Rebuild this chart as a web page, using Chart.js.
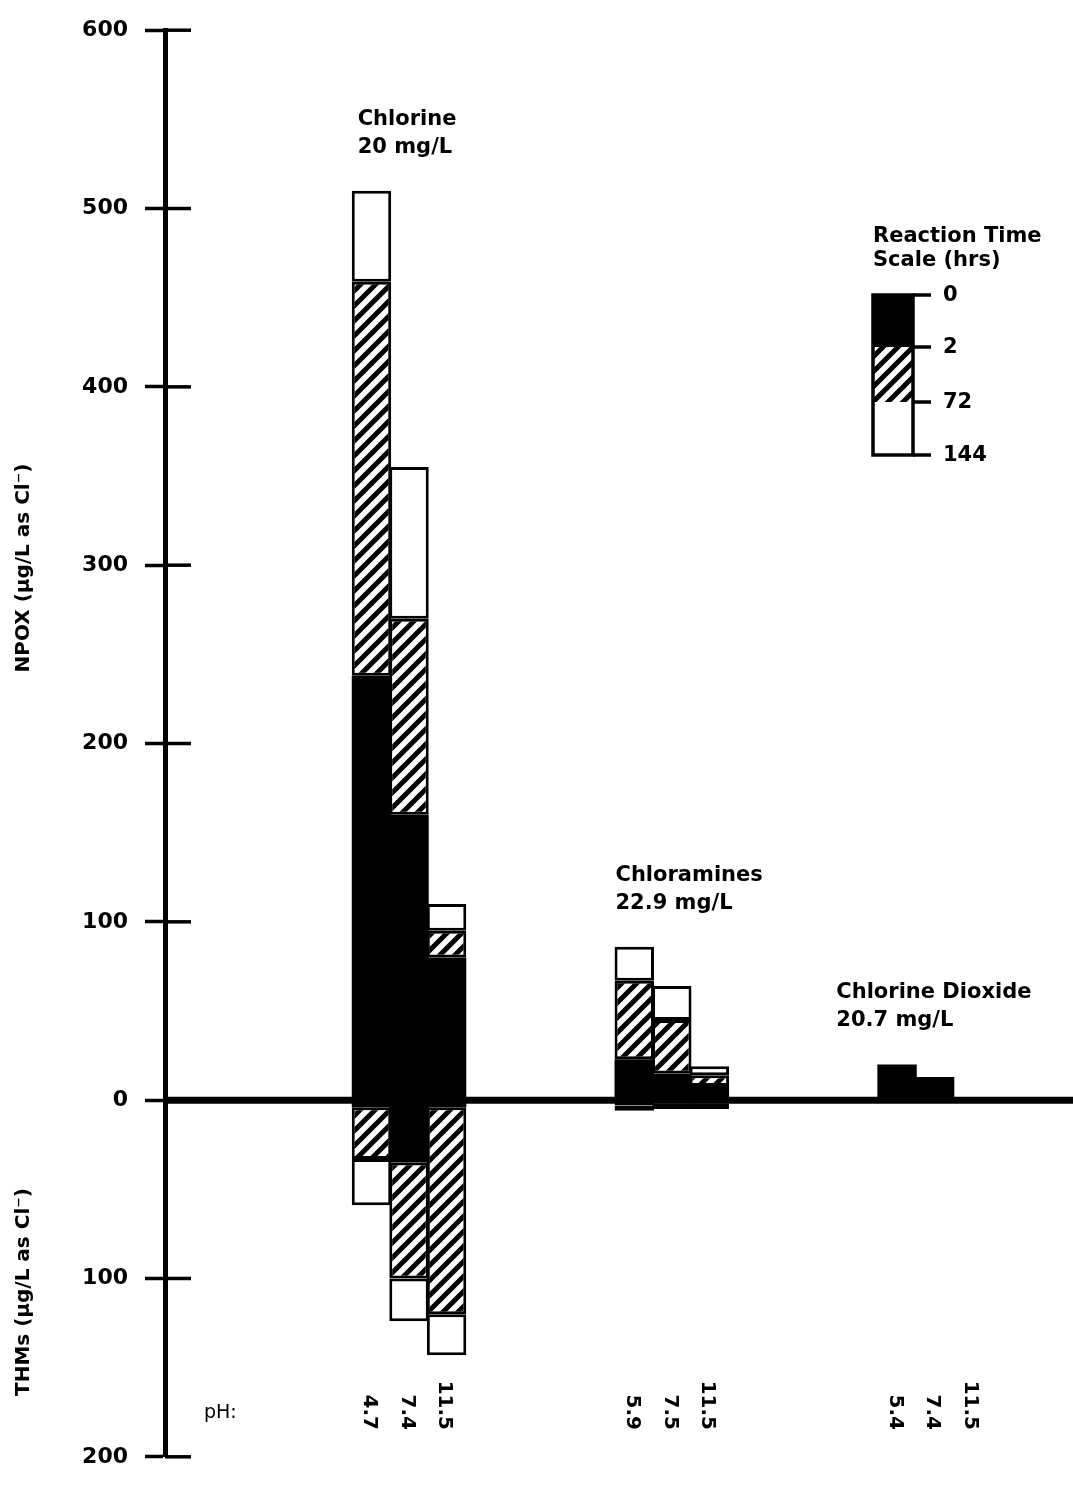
<!DOCTYPE html>
<html>
<head>
<meta charset="utf-8">
<script src="https://cdn.jsdelivr.net/npm/chart.js@4.4.0/dist/chart.umd.min.js"></script>
<style>
html, body { margin: 0; padding: 0; background: #fff; }
#chart { display: block; }
</style>
</head>
<body>
<canvas id="chart" width="1073" height="1487"></canvas>
<script>
// treatments, doses and the pH of each bar
const treatments = ['Chlorine', 'Chloramines', 'Chlorine Dioxide'];
const doses = ['20 mg/L', '22.9 mg/L', '20.7 mg/L'];
const phValues = [['4.7', '7.4', '11.5'], ['5.9', '7.5', '11.5'], ['5.4', '7.4', '11.5']];

// NPOX (ug/L as Cl-) reached after 2, 72 and 144 h, one value per bar
const npox2h   = [238, 160, 80, 23, 15, 8, 20, 13, 0];
const npox72h  = [459, 270, 95, 67, 45, 14, 20, 13, 0];
const npox144h = [510, 355, 110, 86, 64, 19, 20, 13, 0];

// THMs (ug/L as Cl-), plotted downwards
const thm2h   = [4, 35, 4, 0, 0, 0, 0, 0, 0];
const thm72h  = [33, 100, 120, 3, 2, 2, 0, 0, 0];
const thm144h = [59, 124, 143, 6, 5, 5, 0, 0, 0];

const timeScale = ['0', '2', '72', '144'];
const yTickValues = [600, 500, 400, 300, 200, 100, 0, -100, -200];

// category slots on the x axis, groups start at these slots
const nSlots = 24;
const groupStart = [5, 12, 19];

const FONT = 'DejaVu Sans';
Chart.defaults.font.family = FONT;
Chart.defaults.color = '#000';

function hatchPattern() {
    const s = 15;
    const c = document.createElement('canvas');
    c.width = s; c.height = s;
    const g = c.getContext('2d');
    g.fillStyle = '#fff';
    g.fillRect(0, 0, s, s);
    g.strokeStyle = '#000';
    g.lineWidth = 5;
    g.beginPath();
    g.moveTo(-s, s); g.lineTo(s, -s);
    g.moveTo(0, s); g.lineTo(s, 0);
    g.moveTo(0, 2 * s); g.lineTo(2 * s, 0);
    g.stroke();
    return g.createPattern(c, 'repeat');
}
const hatch = hatchPattern();

const slotLabels = new Array(nSlots).fill('');
const barSlot = [];
groupStart.forEach((start, g) => {
    phValues[g].forEach((ph, k) => {
        slotLabels[start + k] = ph;
        barSlot.push(start + k);
    });
});

function segments(lo, hi) {
    const arr = new Array(nSlots).fill(null);
    barSlot.forEach((slot, i) => {
        const a = lo[i], b = hi[i];
        if (a !== b) arr[slot] = [Math.min(a, b), Math.max(a, b)];
    });
    return arr;
}
const zeros = barSlot.map(() => 0);
const neg = arr => arr.map(v => -v);

const fills = ['#000', hatch, '#fff'];
const seriesDefs = [
    [zeros, npox2h, 0], [npox2h, npox72h, 1], [npox72h, npox144h, 2],
    [zeros, neg(thm2h), 0], [neg(thm2h), neg(thm72h), 1], [neg(thm72h), neg(thm144h), 2],
];
const datasets = seriesDefs.map(([lo, hi, f]) => ({
    data: segments(lo, hi),
    backgroundColor: fills[f],
    borderColor: '#000',
    borderWidth: f === 0 ? 0 : 3,
    borderSkipped: false,
    grouped: false,
    barPercentage: 1.05,
    categoryPercentage: 1,
}));

const decor = {
    id: 'decor',
    afterDatasetsDraw(chart) {
        const { ctx, chartArea: area, scales: { x, y } } = chart;
        const slotW = (area.right - area.left) / nSlots;
        ctx.save();
        ctx.strokeStyle = '#000';
        ctx.fillStyle = '#000';

        // zero line over the bars, runs to the page edge
        const y0 = y.getPixelForValue(0);
        ctx.lineWidth = 7;
        ctx.beginPath();
        ctx.moveTo(area.left, y0);
        ctx.lineTo(chart.width, y0);
        ctx.stroke();

        // inner half of the y ticks
        ctx.lineWidth = 3.5;
        y.ticks.forEach(t => {
            const py = y.getPixelForValue(t.value);
            ctx.beginPath();
            ctx.moveTo(area.left, py);
            ctx.lineTo(area.left + 26, py);
            ctx.stroke();
        });

        // treatment labels above each group
        const labelShift = [5, 0, -42];
        ctx.font = `bold 21px "${FONT}"`;
        ctx.textAlign = 'left';
        ctx.textBaseline = 'alphabetic';
        treatments.forEach((name, g) => {
            const idx = [0, 1, 2].map(k => g * 3 + k);
            const top = Math.min(...idx.map(i => y.getPixelForValue(npox144h[i])));
            const xl = x.getPixelForValue(groupStart[g]) - slotW / 2 + labelShift[g];
            ctx.fillText(name, xl, top - 66);
            ctx.fillText(doses[g], xl, top - 38);
        });

        // pH labels, rotated clockwise
        ctx.font = `bold 20px "${FONT}"`;
        barSlot.forEach(slot => {
            const px = x.getPixelForValue(slot) - 2;
            ctx.save();
            ctx.translate(px, 1430);
            ctx.rotate(Math.PI / 2);
            ctx.textAlign = 'right';
            ctx.textBaseline = 'middle';
            ctx.fillText(slotLabels[slot], 0, 0);
            ctx.restore();
        });
        ctx.font = `19px "${FONT}"`;
        ctx.textAlign = 'left';
        ctx.fillText('pH:', 204, 1418);

        // axis titles
        ctx.font = `bold 20px "${FONT}"`;
        ctx.textAlign = 'center';
        ctx.textBaseline = 'middle';
        [['NPOX (\u03bcg/L as Cl\u207b)', 568], ['THMs (\u03bcg/L as Cl\u207b)', 1292]].forEach(([t, cy]) => {
            ctx.save();
            ctx.translate(24, cy);
            ctx.rotate(-Math.PI / 2);
            ctx.fillText(t, 0, 0);
            ctx.restore();
        });

        // reaction time scale legend
        const lx = 873, lw = 40;
        const edges = [295, 347, 402, 455];
        ctx.font = `bold 21px "${FONT}"`;
        ctx.textAlign = 'left';
        ctx.textBaseline = 'alphabetic';
        ctx.fillText('Reaction Time', lx, 242);
        ctx.fillText('Scale (hrs)', lx, 266);
        for (let k = 0; k < 3; k++) {
            ctx.fillStyle = fills[k];
            ctx.fillRect(lx, edges[k], lw, edges[k + 1] - edges[k]);
        }
        ctx.fillStyle = '#000';
        ctx.lineWidth = 3.5;
        ctx.strokeRect(lx, edges[0], lw, edges[3] - edges[0]);
        ctx.textBaseline = 'middle';
        edges.forEach((ey, k) => {
            ctx.beginPath();
            ctx.moveTo(lx + lw, ey);
            ctx.lineTo(lx + lw + 18, ey);
            ctx.stroke();
            ctx.fillText(timeScale[k], lx + lw + 30, ey + 1);
        });
        ctx.restore();
    }
};

new Chart(document.getElementById('chart').getContext('2d'), {
    type: 'bar',
    data: { labels: slotLabels, datasets },
    options: {
        responsive: false,
        animation: false,
        devicePixelRatio: 1,
        layout: { padding: { top: 20, bottom: 19, left: 0, right: 7 } },
        plugins: { legend: { display: false }, tooltip: { enabled: false } },
        scales: {
            x: { display: false, offset: true },
            y: {
                min: -200,
                max: 600,
                afterFit(scale) { scale.width = 165; },
                afterBuildTicks(scale) { scale.ticks = yTickValues.map(v => ({ value: v })); },
                border: { display: true, color: '#000', width: 5 },
                grid: { drawOnChartArea: false, drawTicks: true, tickLength: 20, tickColor: '#000', tickWidth: 3.5 },
                ticks: {
                    autoSkip: false,
                    padding: 17,
                    font: { size: 22, weight: 'bold' },
                    color: '#000',
                    callback: v => String(Math.abs(v)),
                },
            },
        },
    },
    plugins: [decor],
});
</script>
</body>
</html>
